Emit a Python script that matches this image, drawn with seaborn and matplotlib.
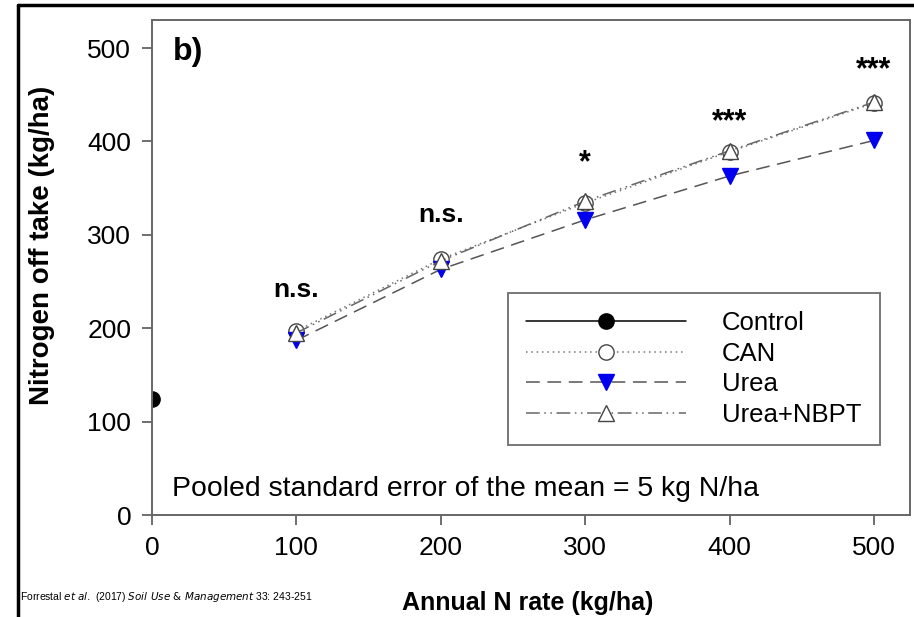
import matplotlib
matplotlib.use("Agg")
import matplotlib.pyplot as plt
import seaborn as sns
import pandas as pd
from matplotlib.lines import Line2D

# values
n_rates = [100, 200, 300, 400, 500]
control_rate = [0]
control_uptake = [124]
can_uptake = [197, 274, 334, 389, 441]
urea_uptake = [187, 263, 316, 363, 401]
nbpt_uptake = [195, 272, 336, 390, 442]

sig_labels = ["n.s.", "n.s.", "*", "***", "***"]
sig_y = [241, 321, 377, 421, 476]

sns.set_theme(style="white")
plt.rcParams["font.family"] = ["Liberation Sans", "DejaVu Sans"]
plt.rcParams["text.color"] = "black"
plt.rcParams["axes.labelcolor"] = "black"
plt.rcParams["xtick.color"] = "black"
plt.rcParams["ytick.color"] = "black"
plt.rcParams["mathtext.fontset"] = "custom"
plt.rcParams["mathtext.rm"] = "Liberation Sans Narrow"
plt.rcParams["mathtext.it"] = "Liberation Sans Narrow:italic"

fig = plt.figure(figsize=(9.14, 6.17), dpi=100)
ax = fig.add_axes([0.1663, 0.1653, 0.8293, 0.8023])

series = [
    ("Control", control_rate, control_uptake, dict(color="black", linestyle="-", marker="o",
                                                   markerfacecolor="black", markeredgecolor="black")),
    ("CAN", n_rates, can_uptake, dict(color="#777777", linestyle=(0, (1, 2.5)), marker="o",
                                      markerfacecolor="white", markeredgecolor="#444444")),
    ("Urea", n_rates, urea_uptake, dict(color="#555555", linestyle=(0, (9, 5)), marker="v",
                                        markerfacecolor="#0000ee", markeredgecolor="#0000ee")),
    ("Urea+NBPT", n_rates, nbpt_uptake, dict(color="#666666", linestyle=(0, (9, 3, 1, 3, 1, 3)), marker="^",
                                             markerfacecolor="white", markeredgecolor="#444444")),
]

for name, xs, ys, kw in series:
    df = pd.DataFrame({"rate": xs, "uptake": ys})
    sns.lineplot(data=df, x="rate", y="uptake", ax=ax, label=name, linewidth=1.1,
                 markersize=11, markeredgewidth=1.0, **kw)

for x, y, s in zip(n_rates, sig_y, sig_labels):
    ax.text(x, y, s, ha="center", va="center", fontsize=19 if s.startswith("n") else 22,
            fontweight="bold")

ax.set_xlim(0, 525)
ax.set_ylim(0, 530)
ax.set_xticks([0, 100, 200, 300, 400, 500])
ax.set_yticks([0, 100, 200, 300, 400, 500])
ax.tick_params(axis="both", direction="out", length=7, width=1.2, color="#555555",
               labelsize=19, pad=8, left=True, bottom=True)
for sp in ax.spines.values():
    sp.set_color("#666666")
    sp.set_linewidth(1.4)

ax.set_xlabel("")
ax.set_ylabel("Nitrogen off take (kg/ha)", fontsize=20, fontweight="bold")
ax.yaxis.set_label_coords(-0.128, 0.545)

ax.text(0.027, 0.935, "b)", transform=ax.transAxes, fontsize=23, fontweight="bold",
        ha="left", va="center")
ax.text(0.026, 0.053, "Pooled standard error of the mean = 5 kg N/ha", transform=ax.transAxes,
        fontsize=20.4, ha="left", va="center")

leg = ax.legend(loc="lower right", bbox_to_anchor=(0.960, 0.141), borderaxespad=0,
                fontsize=18.5, handlelength=6.2, handletextpad=1.4, borderpad=0.72,
                labelspacing=0.25, frameon=True, fancybox=False, edgecolor="#555555")
leg.get_frame().set_linewidth(1.4)

fig.text(528 / 914, 1 - 603 / 617, "Annual N rate (kg/ha)", fontsize=18, fontweight="bold",
         ha="center", va="center")
fig.text(20 / 914, 1 - 597 / 617,
         "Forrestal $\\it{et\\ al.}$ (2017) $\\it{Soil\\ Use\\ &\\ Management}$ 33: 243-251",
         fontsize=7.5, ha="left", va="center", family=["Liberation Sans Narrow", "Liberation Sans"])

# black frame of the original panel (top and left edges)
fig.add_artist(Line2D([18 / 914, 1.0], [1 - 5 / 617, 1 - 5 / 617], transform=fig.transFigure,
                      color="black", linewidth=2.5))
fig.add_artist(Line2D([18 / 914, 18 / 914], [1 - 5 / 617, 0.0], transform=fig.transFigure,
                      color="black", linewidth=2.5))

fig.savefig("out.png", dpi=100)
